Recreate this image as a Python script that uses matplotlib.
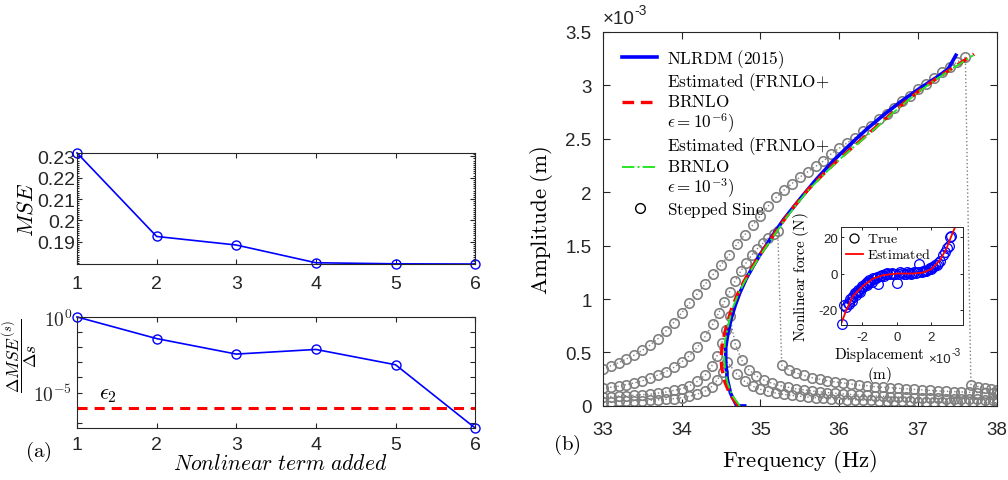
import numpy as np
import matplotlib
matplotlib.use('Agg')
import matplotlib.pyplot as plt
from matplotlib.lines import Line2D
from matplotlib.ticker import FixedLocator, FuncFormatter, AutoMinorLocator, NullLocator

plt.rcParams['font.family'] = ['Liberation Sans', 'DejaVu Sans']
plt.rcParams['mathtext.fontset'] = 'cm'

# ---------------- panel (a) data ----------------
terms = [1, 2, 3, 4, 5, 6]
mse = [0.2316, 0.1925, 0.1885, 0.1802, 0.1797, 0.1796]
dmse = [1.0, 3.7e-2, 3.5e-3, 7.1e-3, 6.9e-4, 4.5e-8]
eps2 = 1e-6

# ---------------- panel (b) data (amplitude in x1e-3 m) ----------------
nlrdm_f = [34.80, 34.70, 34.62, 34.58, 34.56, 34.56, 34.59, 34.63, 34.68, 34.74,
           34.82, 34.91, 35.00, 35.16, 35.29, 35.42, 35.54, 35.71, 35.92, 36.13,
           36.35, 36.56, 36.77, 37.02, 37.23, 37.38, 37.48]
nlrdm_a = [0.00, 0.00, 0.12, 0.25, 0.40, 0.55, 0.69, 0.82, 0.94, 1.06,
           1.19, 1.31, 1.42, 1.60, 1.74, 1.86, 1.97, 2.12, 2.29, 2.44,
           2.59, 2.72, 2.84, 2.97, 3.07, 3.15, 3.28]

est6_f = [34.72, 34.62, 34.55, 34.51, 34.50, 34.52, 34.57, 34.63, 34.70, 34.78,
          34.88, 35.00, 35.14, 35.28, 35.42, 35.60, 35.80, 36.00, 36.25, 36.50,
          36.75, 37.00, 37.25, 37.50, 37.71]
est6_a = [0.00, 0.10, 0.22, 0.35, 0.45, 0.60, 0.75, 0.90, 1.03, 1.15,
          1.28, 1.42, 1.57, 1.72, 1.86, 2.02, 2.17, 2.31, 2.47, 2.63,
          2.79, 2.94, 3.07, 3.19, 3.29]

est3_f = [34.74, 34.64, 34.58, 34.55, 34.54, 34.55, 34.59, 34.64, 34.71, 34.79,
          34.89, 35.01, 35.15, 35.29, 35.43, 35.61, 35.81, 36.01, 36.26, 36.51,
          36.76, 37.01, 37.26, 37.51, 37.70]
est3_a = [0.00, 0.10, 0.22, 0.35, 0.45, 0.60, 0.75, 0.90, 1.03, 1.15,
          1.28, 1.42, 1.57, 1.72, 1.86, 2.02, 2.17, 2.31, 2.47, 2.63,
          2.79, 2.94, 3.07, 3.19, 3.28]

# stepped sine sweeps, four forcing levels
ssA_f = [33.0, 33.1, 33.2, 33.3, 33.4, 33.5, 33.6, 33.7, 33.8, 33.9,
         34.0, 34.1, 34.2, 34.3, 34.4, 34.5, 34.6, 34.7, 34.8, 34.9,
         35.0, 35.1, 35.2, 35.3, 35.4, 35.5, 35.6, 35.7, 35.8, 35.9,
         36.0, 36.1, 36.2, 36.3, 36.4, 36.5, 36.6, 36.7, 36.8, 36.9,
         37.0, 37.1, 37.2, 37.3, 37.4, 37.5, 37.6, 37.67, 37.76, 37.85,
         37.93, 38.0]
ssA_a = [0.35, 0.375, 0.405, 0.44, 0.475, 0.52, 0.57, 0.63, 0.70, 0.78,
         0.87, 0.96, 1.05, 1.14, 1.23, 1.32, 1.41, 1.51, 1.60, 1.69,
         1.78, 1.87, 1.95, 2.02, 2.08, 2.14, 2.19, 2.24, 2.29, 2.36,
         2.41, 2.46, 2.51, 2.57, 2.62, 2.68, 2.73, 2.79, 2.85, 2.90,
         2.96, 3.01, 3.07, 3.12, 3.17, 3.22, 3.26, 0.20, 0.18, 0.165,
         0.155, 0.15]

ssB_f = [33.0, 33.1, 33.2, 33.3, 33.4, 33.5, 33.6, 33.7, 33.8, 33.9,
         34.0, 34.1, 34.2, 34.3, 34.4, 34.47, 34.54, 34.61, 34.68, 34.75,
         34.82, 34.89, 34.96, 35.03, 35.1, 35.17, 35.22, 35.27, 35.36, 35.45,
         35.55, 35.65, 35.75, 35.85, 35.95, 36.05, 36.15, 36.25, 36.35, 36.45,
         36.55, 36.65, 36.75, 36.85, 36.95, 37.05, 37.15, 37.25, 37.35, 37.45,
         37.55, 37.65, 37.75, 37.85, 37.95, 38.0]
ssB_a = [0.165, 0.175, 0.185, 0.20, 0.215, 0.235, 0.26, 0.29, 0.32, 0.36,
         0.41, 0.47, 0.55, 0.65, 0.77, 0.87, 0.97, 1.07, 1.17, 1.26,
         1.34, 1.41, 1.47, 1.52, 1.57, 1.61, 1.64, 0.38, 0.34, 0.31,
         0.285, 0.265, 0.25, 0.235, 0.225, 0.215, 0.205, 0.195, 0.19, 0.18,
         0.175, 0.17, 0.165, 0.16, 0.155, 0.15, 0.145, 0.14, 0.137, 0.134,
         0.131, 0.128, 0.125, 0.122, 0.12, 0.118]

ssC_f = [33.0, 33.1, 33.2, 33.3, 33.4, 33.5, 33.6, 33.7, 33.8, 33.9,
         34.0, 34.1, 34.2, 34.3, 34.38, 34.45, 34.51, 34.56, 34.61, 34.68,
         34.76, 34.85, 34.95, 35.05, 35.15, 35.25, 35.35, 35.45, 35.55, 35.65,
         35.75, 35.85, 35.95, 36.05, 36.15, 36.25, 36.35, 36.45, 36.55, 36.65,
         36.75, 36.85, 36.95, 37.05, 37.15, 37.25, 37.35, 37.45, 37.55, 37.65,
         37.75, 37.85, 37.95, 38.0]
ssC_a = [0.085, 0.088, 0.092, 0.096, 0.10, 0.105, 0.11, 0.12, 0.13, 0.145,
         0.16, 0.19, 0.23, 0.29, 0.37, 0.47, 0.59, 0.71, 0.84, 0.58,
         0.43, 0.34, 0.28, 0.24, 0.21, 0.19, 0.175, 0.16, 0.15, 0.14,
         0.132, 0.125, 0.118, 0.112, 0.107, 0.102, 0.098, 0.094, 0.09, 0.087,
         0.084, 0.081, 0.078, 0.075, 0.073, 0.071, 0.069, 0.067, 0.065, 0.063,
         0.062, 0.06, 0.059, 0.058]

ssD_f = [33.0, 33.1, 33.2, 33.3, 33.4, 33.5, 33.6, 33.7, 33.8, 33.9,
         34.0, 34.1, 34.2, 34.3, 34.38, 34.45, 34.52, 34.58, 34.7, 34.8,
         34.9, 35.0, 35.1, 35.2, 35.3, 35.4, 35.5, 35.6, 35.7, 35.8,
         35.9, 36.0, 36.1, 36.2, 36.3, 36.4, 36.5, 36.6, 36.7, 36.8,
         36.9, 37.0, 37.1, 37.2, 37.3, 37.4, 37.5, 37.6, 37.7, 37.8,
         37.9, 38.0]
ssD_a = [0.04, 0.041, 0.043, 0.045, 0.047, 0.05, 0.053, 0.057, 0.062, 0.068,
         0.077, 0.09, 0.11, 0.14, 0.18, 0.24, 0.32, 0.41, 0.30, 0.23,
         0.185, 0.155, 0.135, 0.12, 0.108, 0.098, 0.09, 0.083, 0.077, 0.072,
         0.068, 0.064, 0.06, 0.057, 0.054, 0.052, 0.05, 0.048, 0.046, 0.044,
         0.042, 0.041, 0.04, 0.038, 0.037, 0.036, 0.035, 0.034, 0.033, 0.032,
         0.031, 0.03]

# inset: nonlinear force vs displacement (x1e-3 m, N)
true_x = [-3.20, -3.05, -2.95, -2.85, -2.78, -2.70, -2.62, -2.55, -2.45, -2.38,
          -2.30, -2.22, -2.15, -2.05, -1.95, -1.85, -1.75, -1.65, -1.55, -1.45,
          -1.30, -1.15, -1.10, -1.00, -0.85, -0.70, -0.55, -0.40, -0.25, -0.10,
          0.00, 0.10, 0.30, 0.50, 0.70, 0.90, 1.10, 1.30, 1.45, 1.60,
          1.75, 1.90, 2.05, 2.20, 2.35, 2.50, 2.65, 2.80, 2.90, 3.00,
          3.05, 3.15,
          -2.60, -2.40, -2.20, -2.00, -1.80, -1.70, -1.60, -1.40, -1.20, -0.90,
          -0.75, -0.60, -0.30, 0.20, 0.40, 0.60, 0.80, 1.00, 1.20, 1.50,
          1.70, 1.85, 2.00, 2.10, 2.30]
true_y = [-28.0, -17.5, -18.5, -16.0, -17.0, -14.0, -15.0, -12.5, -11.0, -12.0,
          -10.0, -9.0, -10.0, -8.0, -7.5, -6.0, -6.5, -5.0, -4.0, -4.5,
          -3.0, -2.0, -5.5, -1.5, -1.0, -0.5, -0.5, 0.0, 0.0, -0.3,
          -5.0, 0.0, 0.2, 0.0, 0.3, 0.5, 0.5, 5.5, 1.0, 1.5,
          2.0, 3.0, 3.5, 4.5, 6.0, 7.0, 10.0, 12.0, 14.0, 15.0,
          20.0, 21.0,
          -13.5, -10.5, -9.5, -7.0, -6.0, -4.5, -3.5, -2.5, -2.2, -1.2,
          -1.5, 0.3, 0.5, 0.8, -0.3, 1.0, 0.0, 1.0, 0.8, 1.5,
          1.5, 2.5, 2.5, 3.5, 5.0]
est_x = [-3.20, -2.90, -2.54, -1.96, -1.38, -0.80, 0.00, 0.92, 1.50, 1.98,
         2.46, 2.85, 3.23, 3.38]
est_y = [-27.0, -19.7, -12.4, -6.8, -2.8, -0.9, 0.0, 0.0, 0.5, 2.4,
         7.0, 13.5, 22.7, 26.0]

AXC = '0.15'
GRAY = '0.5'


def style(ax, size=13.5, length=3.5, lw=0.8):
    for s in ax.spines.values():
        s.set_color(AXC)
        s.set_linewidth(lw)
    ax.tick_params(which='both', direction='in', top=True, right=True,
                   colors=AXC, labelsize=size, width=lw)
    ax.tick_params(which='major', length=length)
    ax.tick_params(which='minor', length=length * 0.5)


fig = plt.figure(figsize=(10.08, 4.81), dpi=100)

# ---- (a) top ----
ax1 = fig.add_axes([0.0764, 0.449, 0.395, 0.231])
ax1.plot(terms, mse, '-o', color='b', mfc='none', ms=6.5, mew=1.0, lw=1.2, clip_on=False)
ax1.set_xlim(1, 6)
ax1.set_ylim(min(mse), max(mse))
ax1.set_xticks(terms)
ax1.set_yticks([0.19, 0.20, 0.21, 0.22, 0.23])
ax1.set_yticklabels(['0.19', '0.2', '0.21', '0.22', '0.23'])
ax1.yaxis.set_minor_locator(AutoMinorLocator(10))
style(ax1, size=14)
ax1.tick_params(axis='x', pad=8)
ax1.tick_params(axis='y', pad=1.5)
ax1.set_ylabel(r'$MSE$', fontsize=16)
ax1.yaxis.set_label_coords(-0.10, 0.5)

# ---- (a) bottom ----
ax2 = fig.add_axes([0.0764, 0.108, 0.395, 0.231])
ax2.semilogy(terms, dmse, '-o', color='b', mfc='none', ms=6.5, mew=1.0, lw=1.2, clip_on=False)
ax2.axhline(eps2, color='r', ls=(0, (3.3, 2.3)), lw=2.2)
ax2.set_xlim(1, 6)
ax2.set_ylim(min(dmse), 1.0)
ax2.set_xticks(terms)
ax2.yaxis.set_major_locator(FixedLocator([10.0 ** k for k in range(-7, 1)]))
ax2.yaxis.set_minor_locator(NullLocator())
_lab = {0: r'$\mathsf{10^{0}}$', -5: r'$\mathsf{10^{-5}}$'}
ax2.yaxis.set_major_formatter(FuncFormatter(lambda v, p: _lab.get(int(round(np.log10(v))), '')))
style(ax2, size=14)
ax2.tick_params(axis='x', pad=6)
ax2.tick_params(axis='y', pad=3.5)
ax2.text(1.27, 10 ** -5.05, r'$\epsilon_2$', fontsize=16, va='center', ha='left')
ax2.set_ylabel(r'$\dfrac{\Delta MSE^{(s)}}{\Delta s}$', fontsize=12.5)
ax2.yaxis.set_label_coords(-0.092, 0.66)
ax2.set_xlabel(r'$Nonlinear\ term\ added$', fontsize=15.5)
ax2.xaxis.set_label_coords(0.51, -0.225)

fig.text(0.038, 0.06, r'$\mathrm{(a)}$', fontsize=15, ha='center', va='center')

# ---- (b) main ----
ax3 = fig.add_axes([0.598, 0.154, 0.391, 0.778])
for f, a in [(ssA_f, ssA_a), (ssB_f, ssB_a), (ssC_f, ssC_a), (ssD_f, ssD_a)]:
    ax3.plot(f, a, ':o', color=GRAY, mfc='none', ms=6.8, mew=1.2, lw=1.0)
h1, = ax3.plot(nlrdm_f, nlrdm_a, '-', color='b', lw=2.6)
h2, = ax3.plot(est6_f, est6_a, color='r', lw=2.4, ls=(0, (3.5, 2.0)))
h3, = ax3.plot(est3_f, est3_a, color=(0.15, 0.9, 0.15), lw=1.4, ls='-.')
h4 = Line2D([], [], ls='none', marker='o', mfc='none', mec='k', ms=7, mew=1.0)
ax3.set_xlim(33, 38)
ax3.set_ylim(0, 3.5)
ax3.set_xticks([33, 34, 35, 36, 37, 38])
ax3.set_yticks([0, 0.5, 1, 1.5, 2, 2.5, 3, 3.5])
ax3.set_yticklabels(['0', '0.5', '1', '1.5', '2', '2.5', '3', '3.5'])
style(ax3, length=5)
ax3.tick_params(axis='x', pad=11)
ax3.tick_params(axis='y', pad=8)
ax3.set_xlabel(r'$\mathrm{Frequency\ (Hz)}$', fontsize=16.5)
ax3.xaxis.set_label_coords(0.5, -0.11)
ax3.set_ylabel(r'$\mathrm{Amplitude\ (m)}$', fontsize=16.5)
ax3.yaxis.set_label_coords(-0.12, 0.5)
t_off = ax3.text(0.0, 1.012, '\u00d710', transform=ax3.transAxes, fontsize=13.5,
                 ha='left', va='bottom', color=AXC)
ax3.annotate('-3', xy=(1.0, 0.62), xycoords=t_off, fontsize=10, ha='left', va='bottom', color=AXC)

labels = [r'$\mathrm{NLRDM\ (2015)}$',
          '$\\mathrm{Estimated\\ (FRNLO{+}}$\n$\\mathrm{BRNLO}$\n$\\epsilon=10^{-6})$',
          '$\\mathrm{Estimated\\ (FRNLO{+}}$\n$\\mathrm{BRNLO}$\n$\\epsilon=10^{-3})$',
          r'$\mathrm{Stepped\ Sine}$']
leg = ax3.legend([h1, h2, h3, h4], labels, loc='upper left', bbox_to_anchor=(0.0, 1.012),
                 frameon=False, fontsize=12.3, handlelength=2.0, handletextpad=0.6,
                 labelspacing=0.0, borderaxespad=0.75, borderpad=0.4)
for t in leg.get_texts():
    t.set_linespacing(1.1)

fig.text(0.5625, 0.075, r'$\mathrm{(b)}$', fontsize=15, ha='center', va='center')

# ---- inset ----
ax4 = fig.add_axes([0.834, 0.322, 0.121, 0.205])
ax4.set_facecolor('white')
ax4.plot(true_x, true_y, 'o', mfc='none', mec='b', ms=7, mew=0.9, ls='none', clip_on=False)
ax4.plot(est_x, est_y, '-', color='r', lw=1.3)
ax4.set_xlim(-3.25, 3.8)
ax4.set_ylim(-28.5, 26)
ax4.set_xticks([-2, 0, 2])
ax4.set_xticklabels(['-2', '0', '2'])
ax4.set_yticks([-20, 0, 20])
ax4.set_yticklabels(['-20', '0', '20'])
style(ax4, size=9.5, length=2.5, lw=0.7)
ax4.tick_params(axis='x', pad=4)
ax4.tick_params(axis='y', pad=2)
ax4.set_ylabel(r'$\mathrm{Nonlinear\ force\ (N)}$', fontsize=11)
ax4.yaxis.set_label_coords(-0.24, 0.5)
ax4.set_xlabel('$\\mathrm{Displacement}$\n$\\mathrm{(m)}$', fontsize=11, linespacing=1.05)
ax4.xaxis.set_label_coords(0.32, -0.2)
t_off2 = ax4.text(0.72, -0.40, '\u00d710', transform=ax4.transAxes, fontsize=9.5,
                  ha='left', va='bottom', color=AXC)
ax4.annotate('-3', xy=(1.0, 0.62), xycoords=t_off2, fontsize=7.5, ha='left', va='bottom', color=AXC)
ih1 = Line2D([], [], ls='none', marker='o', mfc='none', mec='k', ms=6.5, mew=0.9)
ih2 = Line2D([], [], color='r', lw=1.3)
ax4.legend([ih1, ih2], [r'$\mathrm{True}$', r'$\mathrm{Estimated}$'], loc='upper left',
           frameon=False, fontsize=10, handlelength=1.25, handletextpad=0.3,
           labelspacing=0.15, borderaxespad=0.15, borderpad=0.2)

fig.savefig('out.png', dpi=100)
